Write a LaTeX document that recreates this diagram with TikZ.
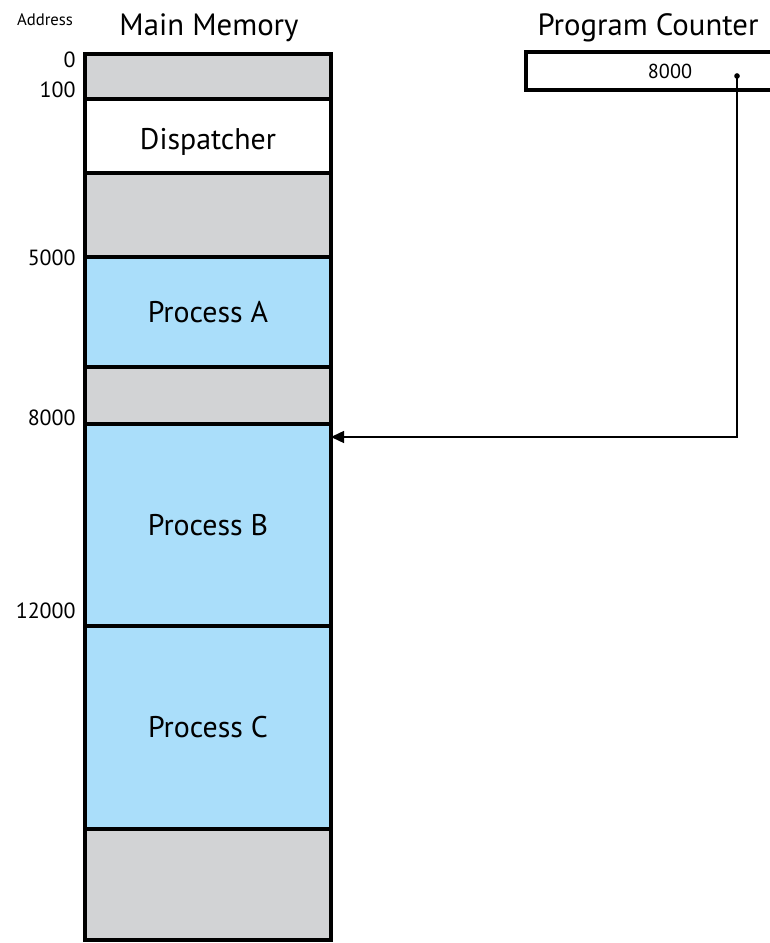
\documentclass[tikz,border=0pt]{standalone}
\usepackage{fontspec}
\setmainfont{PT Sans}
\usetikzlibrary{arrows.meta,positioning,calc}
\definecolor{memgray}{HTML}{D2D3D5}
\definecolor{procblue}{HTML}{AADEFA}
\tikzset{
  seg/.style={draw,line width=2pt,minimum width=4.92cm,anchor=north,inner sep=0pt,outer sep=0pt,font=\fontsize{17}{19}\selectfont},
  free/.style={seg,fill=memgray},
  proc/.style={seg,fill=procblue},
  addr/.style={anchor=east,inner sep=0pt,font=\fontsize{12.5}{14}\selectfont},
  ttl/.style={font=\fontsize{17.5}{19}\selectfont,inner sep=0pt},
  arr/.style={-{Triangle[length=2.6mm,width=2.4mm]},line width=0.8pt},
}
\begin{document}
\begin{tikzpicture}
\useasboundingbox (0,0) rectangle (15.38,-18.86);
% titles
\node[font=\fontsize{9.5}{11}\selectfont,inner sep=0pt] (addrttl) at (0.90,-0.40) {Address};
\node[ttl] (mmttl) at (4.18,-0.56) {Main Memory};
\node[ttl] (pcttl) at (12.96,-0.56) {Program Counter};
% memory column
\node[free,minimum height=0.90cm] (g1) at (4.16,-1.08) {};
\node[seg,fill=white,minimum height=1.48cm,text height=0.64cm] (disp) at (g1.south) {Dispatcher};
\node[free,minimum height=1.68cm] (g2) at (disp.south) {};
\node[proc,minimum height=2.20cm] (pa) at (g2.south) {Process A};
\node[free,minimum height=1.14cm] (g3) at (pa.south) {};
\node[proc,minimum height=4.04cm] (pb) at (g3.south) {Process B};
\node[proc,minimum height=4.06cm] (pc) at (pb.south) {Process C};
\node[free,minimum height=2.22cm] (g4) at (pc.south) {};
% addresses
\node[addr] (a0) at (1.52,-1.20) {0};
\node[addr] (a100) at (1.52,-1.80) {100};
\node[addr] (a5000) at (1.52,-5.16) {5000};
\node[addr] (a8000) at (1.52,-8.36) {8000};
\node[addr] (a12000) at (1.52,-12.22) {12000};
% program counter
\node[draw,line width=1.8pt,minimum width=5.76cm,minimum height=0.76cm,inner sep=0pt,
  font=\fontsize{11.5}{13}\selectfont] (pcbox) at (13.40,-1.42) {8000};
\coordinate (pcdot) at (14.74,-1.52);
\fill (pcdot) circle (1.6pt);
\draw[arr] (pcdot) |- ([yshift=-0.26cm]pb.north east);
\end{tikzpicture}
\end{document}
